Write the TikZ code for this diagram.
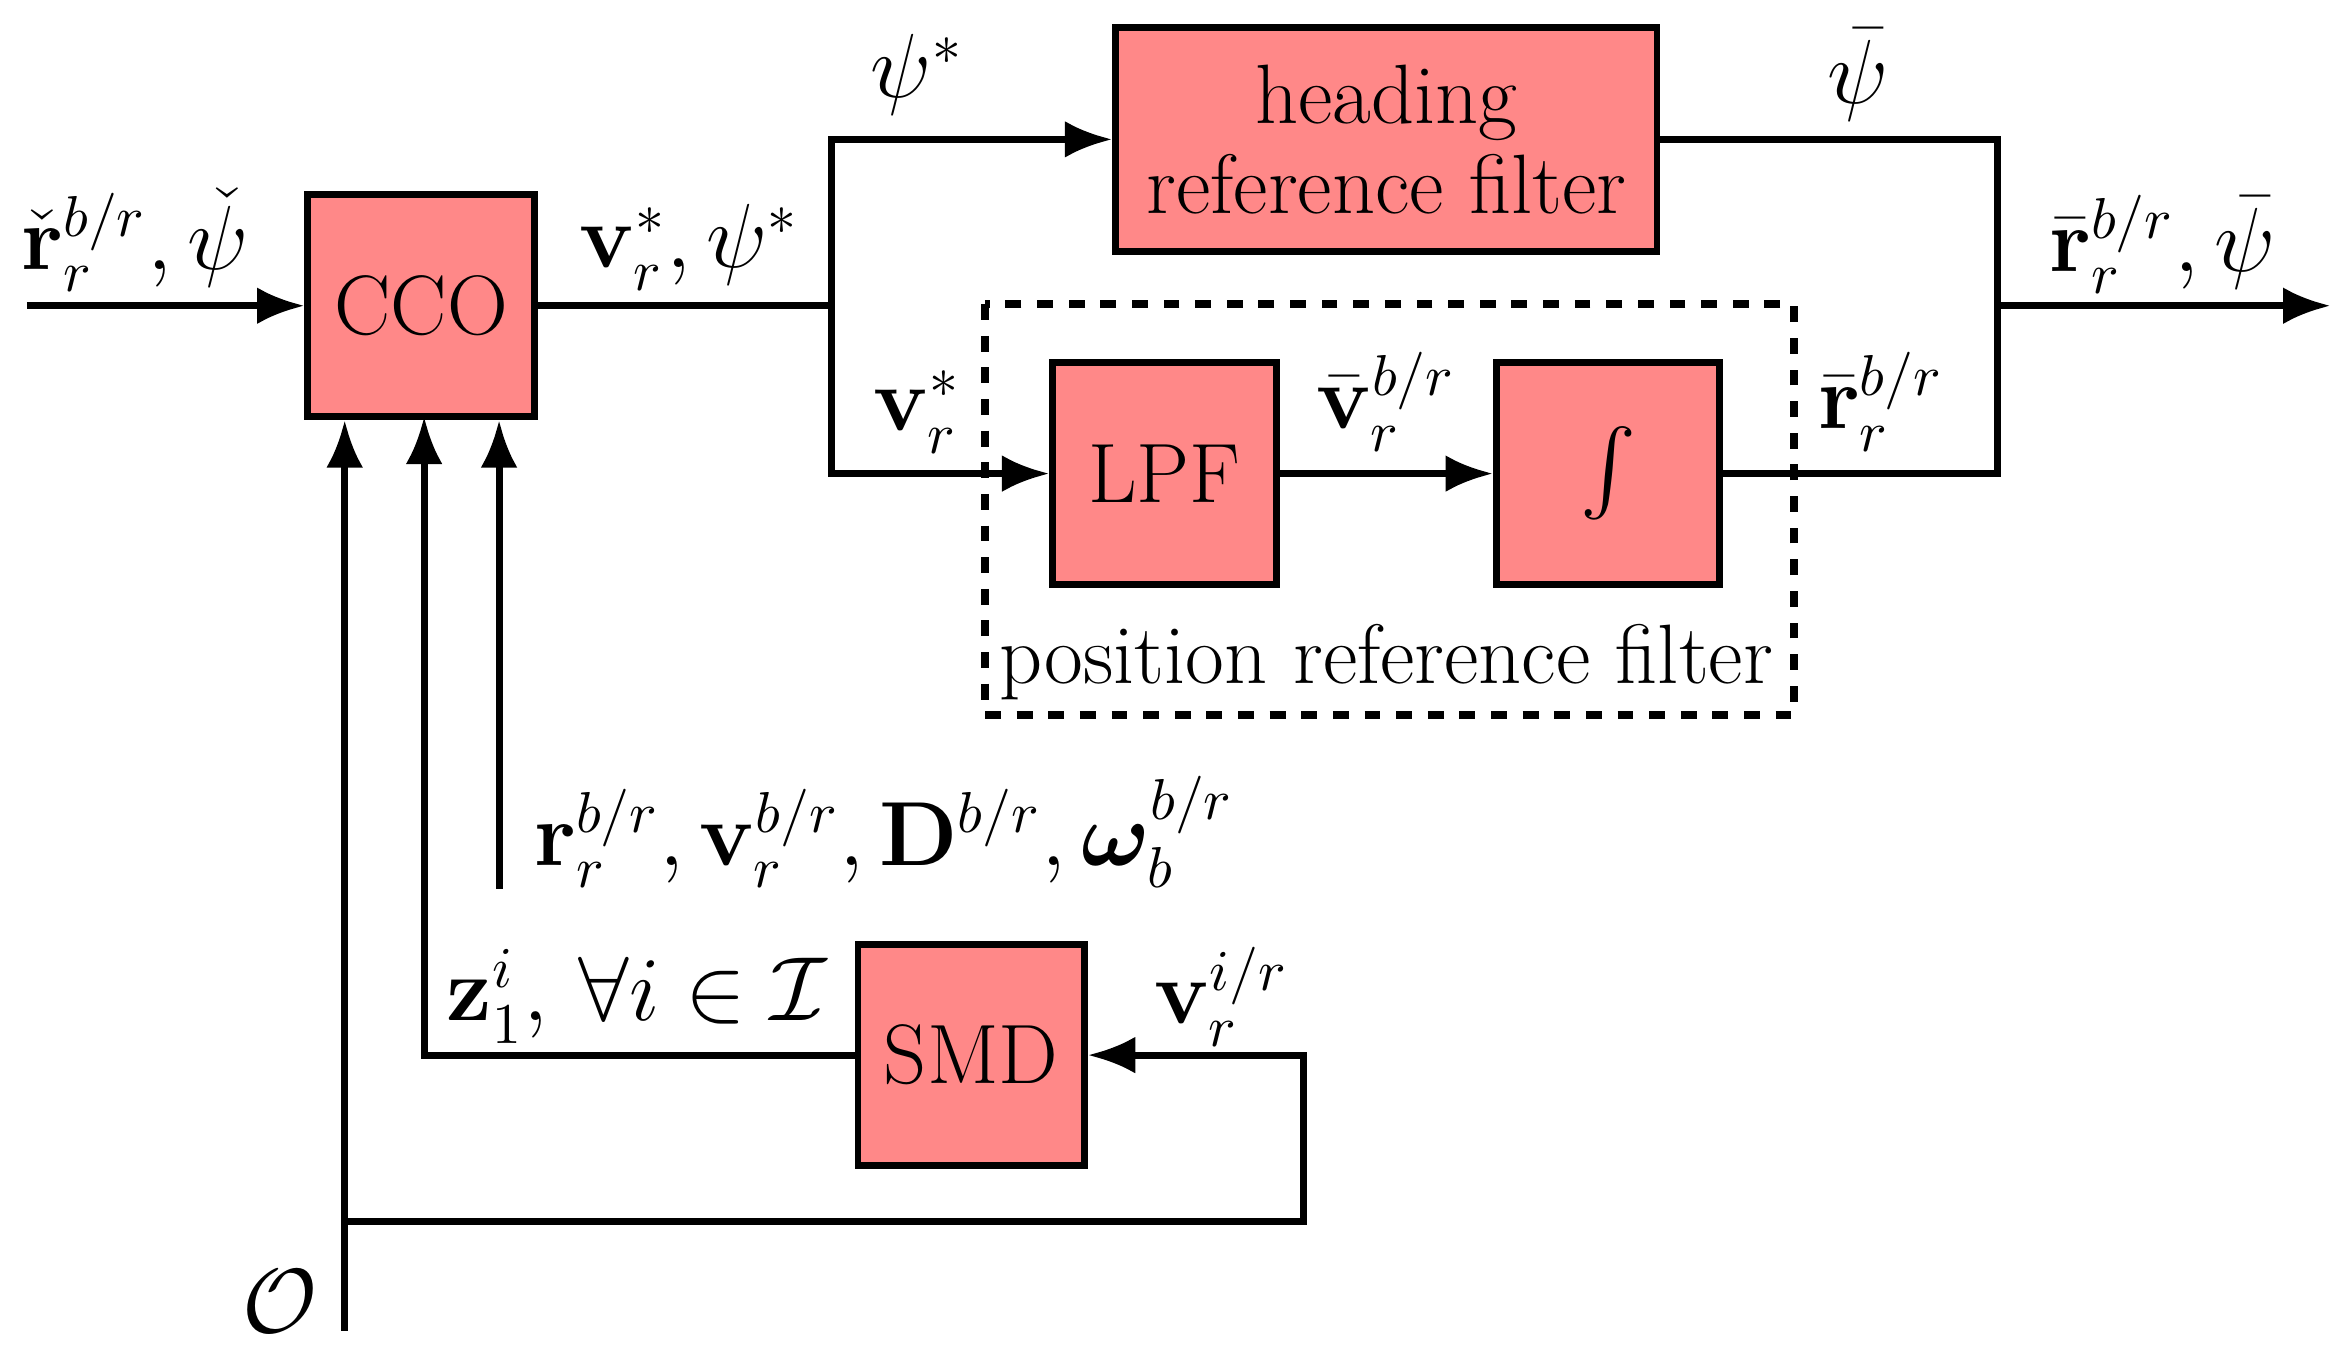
\documentclass[tikz,border=0pt]{standalone}
\usepackage{amsmath,amssymb,bm}
\usetikzlibrary{arrows.meta}
\begin{document}
\begin{tikzpicture}[x=0.01cm,y=-0.01cm,
  blk/.style={draw,line width=1.3pt,fill={rgb,255:red,255;green,136;blue,136},inner sep=0pt},
  ln/.style={line width=1.3pt},
  arr/.style={ln,-{Latex[length=9pt,width=7pt]}},
  every node/.style={font=\fontsize{16}{19}\selectfont}]
\useasboundingbox (0,0) rectangle (1560,900);
\node[blk,minimum width=1.51cm,minimum height=1.48cm] (cco) at (281,204) {CCO};
\node[blk,minimum width=3.61cm,minimum height=1.49cm,align=center] (hrf) at (925,93) {heading\\[-2pt]reference filter};
\node[blk,minimum width=1.49cm,minimum height=1.48cm] (lpf) at (777,316) {LPF};
\node[blk,minimum width=1.49cm,minimum height=1.48cm] (int) at (1073,316) {$\int$};
\node[blk,minimum width=1.51cm,minimum height=1.47cm] (smd) at (648,704) {SMD};
\draw[ln,dashed,line width=1.5pt] (657,203) rectangle (1197,477);
\node (prf) at (925,442) {position reference filter};
\coordinate (in) at (18,204);
\coordinate (sp) at (555,204);
\coordinate (jn) at (1333,204);
\coordinate (out) at (1555,204);
\coordinate (a1) at (333,593);
\coordinate (o) at (230,888);
\coordinate (fb) at (870,815);
\draw[arr] (in) -- (cco);
\draw[ln] (cco) -- (sp);
\draw[arr] (sp) |- (hrf);
\draw[arr] (sp) |- (lpf);
\draw[arr] (lpf) -- (int);
\draw[ln] (int) -| (jn);
\draw[ln] (hrf) -| (jn);
\draw[arr] (jn) -- (out);
\draw[arr] (a1) -- (a1 |- cco.south);
\draw[arr] (smd.west) -| (283,278);
\draw[arr] (o) -- (o |- cco.south);
\draw[arr] (230,815) -- (fb) |- (smd.east);
\node at (90,160) {$\check{\mathbf r}_r^{b/r},\check\psi$};
\node at (460,165) {$\mathbf v_r^{*},\psi^{*}$};
\node at (612,50) {$\psi^{*}$};
\node at (612,275) {$\mathbf v_r^{*}$};
\node at (925,268) {$\bar{\mathbf v}_r^{b/r}$};
\node at (1255,268) {$\bar{\mathbf r}_r^{b/r}$};
\node at (1240,50) {$\bar\psi$};
\node at (1443,163) {$\bar{\mathbf r}_r^{b/r},\bar\psi$};
\node at (590,555) {$\mathbf r_r^{b/r},\mathbf v_r^{b/r},\mathbf D^{b/r},\bm\omega_b^{b/r}$};
\node at (425,665) {$\mathbf z_1^{i},\,\forall i\in\mathcal I$};
\node at (815,665) {$\mathbf v_r^{i/r}$};
\node at (187,868) {$\mathcal O$};
\end{tikzpicture}
\end{document}
